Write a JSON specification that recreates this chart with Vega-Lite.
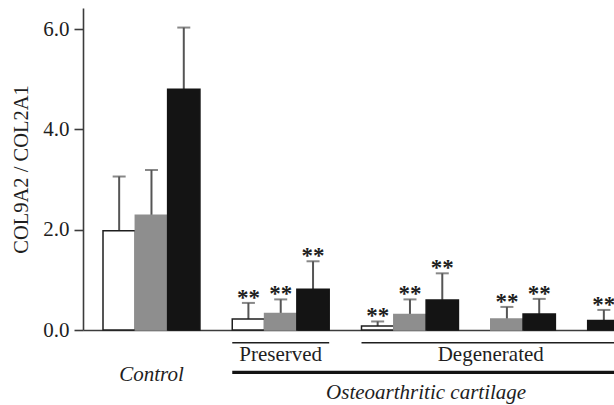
{
  "$schema": "https://vega.github.io/schema/vega-lite/v6.json",
  "width": 531,
  "height": 322,
  "autosize": "none",
  "padding": {"left": 83, "top": 8, "right": 0, "bottom": 75},
  "background": "#ffffff",
  "config": {
    "view": {"stroke": null},
    "font": "Liberation Serif",
    "text": {"font": "Liberation Serif", "color": "#1e1e1e"}
  },
  "datasets": {
    "bars": [
      {"bar": "c1", "group": "Control", "series": "white", "value": 1.98, "upper": 3.06, "sig": ""},
      {"bar": "c2", "group": "Control", "series": "gray", "value": 2.29, "upper": 3.19, "sig": ""},
      {"bar": "c3", "group": "Control", "series": "black", "value": 4.80, "upper": 6.03, "sig": ""},
      {"bar": "p1", "group": "Preserved", "series": "white", "value": 0.22, "upper": 0.54, "sig": "**"},
      {"bar": "p2", "group": "Preserved", "series": "gray", "value": 0.33, "upper": 0.61, "sig": "**"},
      {"bar": "p3", "group": "Preserved", "series": "black", "value": 0.81, "upper": 1.37, "sig": "**"},
      {"bar": "d1", "group": "Degenerated", "series": "white", "value": 0.08, "upper": 0.17, "sig": "**"},
      {"bar": "d2", "group": "Degenerated", "series": "gray", "value": 0.31, "upper": 0.61, "sig": "**"},
      {"bar": "d3", "group": "Degenerated", "series": "black", "value": 0.60, "upper": 1.13, "sig": "**"},
      {"bar": "e2", "group": "Degenerated", "series": "gray", "value": 0.22, "upper": 0.46, "sig": "**"},
      {"bar": "e3", "group": "Degenerated", "series": "black", "value": 0.32, "upper": 0.62, "sig": "**"},
      {"bar": "f3", "group": "Degenerated", "series": "black", "value": 0.19, "upper": 0.40, "sig": "**"}
    ]
  },
  "resolve": {"scale": {"x": "shared", "y": "shared"}},
  "encoding": {
    "x": {
      "field": "bar",
      "type": "nominal",
      "scale": {
        "type": "band",
        "domain": ["c1","c2","c3","s1","p1","p2","p3","s2","d1","d2","d3","s3","e2","e3","s4","f3"],
        "range": [0, 557],
        "paddingInner": 0,
        "paddingOuter": 0.619
      },
      "axis": {"labels": false, "ticks": false, "title": null, "domain": true, "domainColor": "#3c3c3c", "domainWidth": 1.6, "grid": false}
    }
  },
  "layer": [
    {
      "data": {"name": "bars"},
      "mark": {"type": "rule", "color": "#555555", "strokeWidth": 2},
      "encoding": {
        "y": {
          "field": "value",
          "type": "quantitative",
          "scale": {"domain": [0, 6.42], "nice": false, "zero": true},
          "axis": {
            "values": [0, 2, 4, 6],
            "format": ".1f",
            "title": "COL9A2 / COL2A1",
            "grid": false,
            "domainColor": "#3c3c3c",
            "domainWidth": 1.6,
            "tickColor": "#3c3c3c",
            "tickWidth": 1.6,
            "tickSize": 9,
            "labelFont": "Liberation Serif",
            "labelFontSize": 21,
            "labelColor": "#1e1e1e",
            "labelPadding": 5,
            "titleFont": "Liberation Serif",
            "titleFontSize": 20.5,
            "titleFontWeight": "normal",
            "titleColor": "#1e1e1e",
            "titlePadding": 11
          }
        },
        "y2": {"field": "upper"}
      }
    },
    {
      "data": {"name": "bars"},
      "mark": {"type": "tick", "color": "#555555", "thickness": 2, "size": 13, "orient": "horizontal"},
      "encoding": {
        "y": {"field": "upper", "type": "quantitative"}
      }
    },
    {
      "data": {"name": "bars"},
      "mark": {"type": "bar", "strokeWidth": 1.5},
      "encoding": {
        "y": {"field": "value", "type": "quantitative"},
        "fill": {
          "field": "series",
          "type": "nominal",
          "scale": {"domain": ["white", "gray", "black"], "range": ["#ffffff", "#8e8e8e", "#141414"]},
          "legend": null
        },
        "stroke": {
          "field": "series",
          "type": "nominal",
          "scale": {"domain": ["white", "gray", "black"], "range": ["#1e1e1e", "#8e8e8e", "#141414"]},
          "legend": null
        }
      }
    },
    {
      "data": {"name": "bars"},
      "mark": {"type": "text", "fontSize": 23, "fontWeight": "bold", "baseline": "alphabetic", "align": "center", "dy": 2},
      "encoding": {
        "y": {"field": "upper", "type": "quantitative"},
        "text": {"field": "sig"}
      }
    },
    {
      "data": {"values": [
        {"label": "Preserved", "from": "p1", "to": "p3"},
        {"label": "Degenerated", "from": "d1", "to": "f3"}
      ]},
      "mark": {"type": "rule", "color": "#1e1e1e", "strokeWidth": 1.5},
      "encoding": {
        "x": {"field": "from", "type": "nominal", "bandPosition": 0},
        "x2": {"field": "to", "bandPosition": 1},
        "y": {"datum": -0.253}
      }
    },
    {
      "data": {"values": [
        {"label": "Osteoarthritic cartilage", "from": "p1", "to": "f3"}
      ]},
      "mark": {"type": "rule", "color": "#141414", "strokeWidth": 3.2},
      "encoding": {
        "x": {"field": "from", "type": "nominal", "bandPosition": 0},
        "x2": {"field": "to", "bandPosition": 1},
        "y": {"datum": -0.843}
      }
    },
    {
      "data": {"values": [{"label": "Control", "at": "c2"}]},
      "mark": {"type": "text", "fontSize": 21, "fontStyle": "italic", "baseline": "middle", "align": "center"},
      "encoding": {
        "x": {"field": "at", "type": "nominal"},
        "y": {"datum": -0.9},
        "text": {"field": "label"}
      }
    },
    {
      "data": {"values": [{"label": "Preserved", "at": "p2"}]},
      "mark": {"type": "text", "fontSize": 21, "baseline": "middle", "align": "center"},
      "encoding": {
        "x": {"field": "at", "type": "nominal"},
        "y": {"datum": -0.5},
        "text": {"field": "label"}
      }
    },
    {
      "data": {"values": [{"label": "Degenerated", "at": "e2"}]},
      "mark": {"type": "text", "fontSize": 21, "baseline": "middle", "align": "center"},
      "encoding": {
        "x": {"field": "at", "type": "nominal", "bandPosition": 0},
        "y": {"datum": -0.5},
        "text": {"field": "label"}
      }
    },
    {
      "data": {"values": [{"label": "Osteoarthritic cartilage", "at": "d3"}]},
      "mark": {"type": "text", "fontSize": 21, "fontStyle": "italic", "baseline": "middle", "align": "center"},
      "encoding": {
        "x": {"field": "at", "type": "nominal", "bandPosition": 0},
        "y": {"datum": -1.256},
        "text": {"field": "label"}
      }
    }
  ]
}
